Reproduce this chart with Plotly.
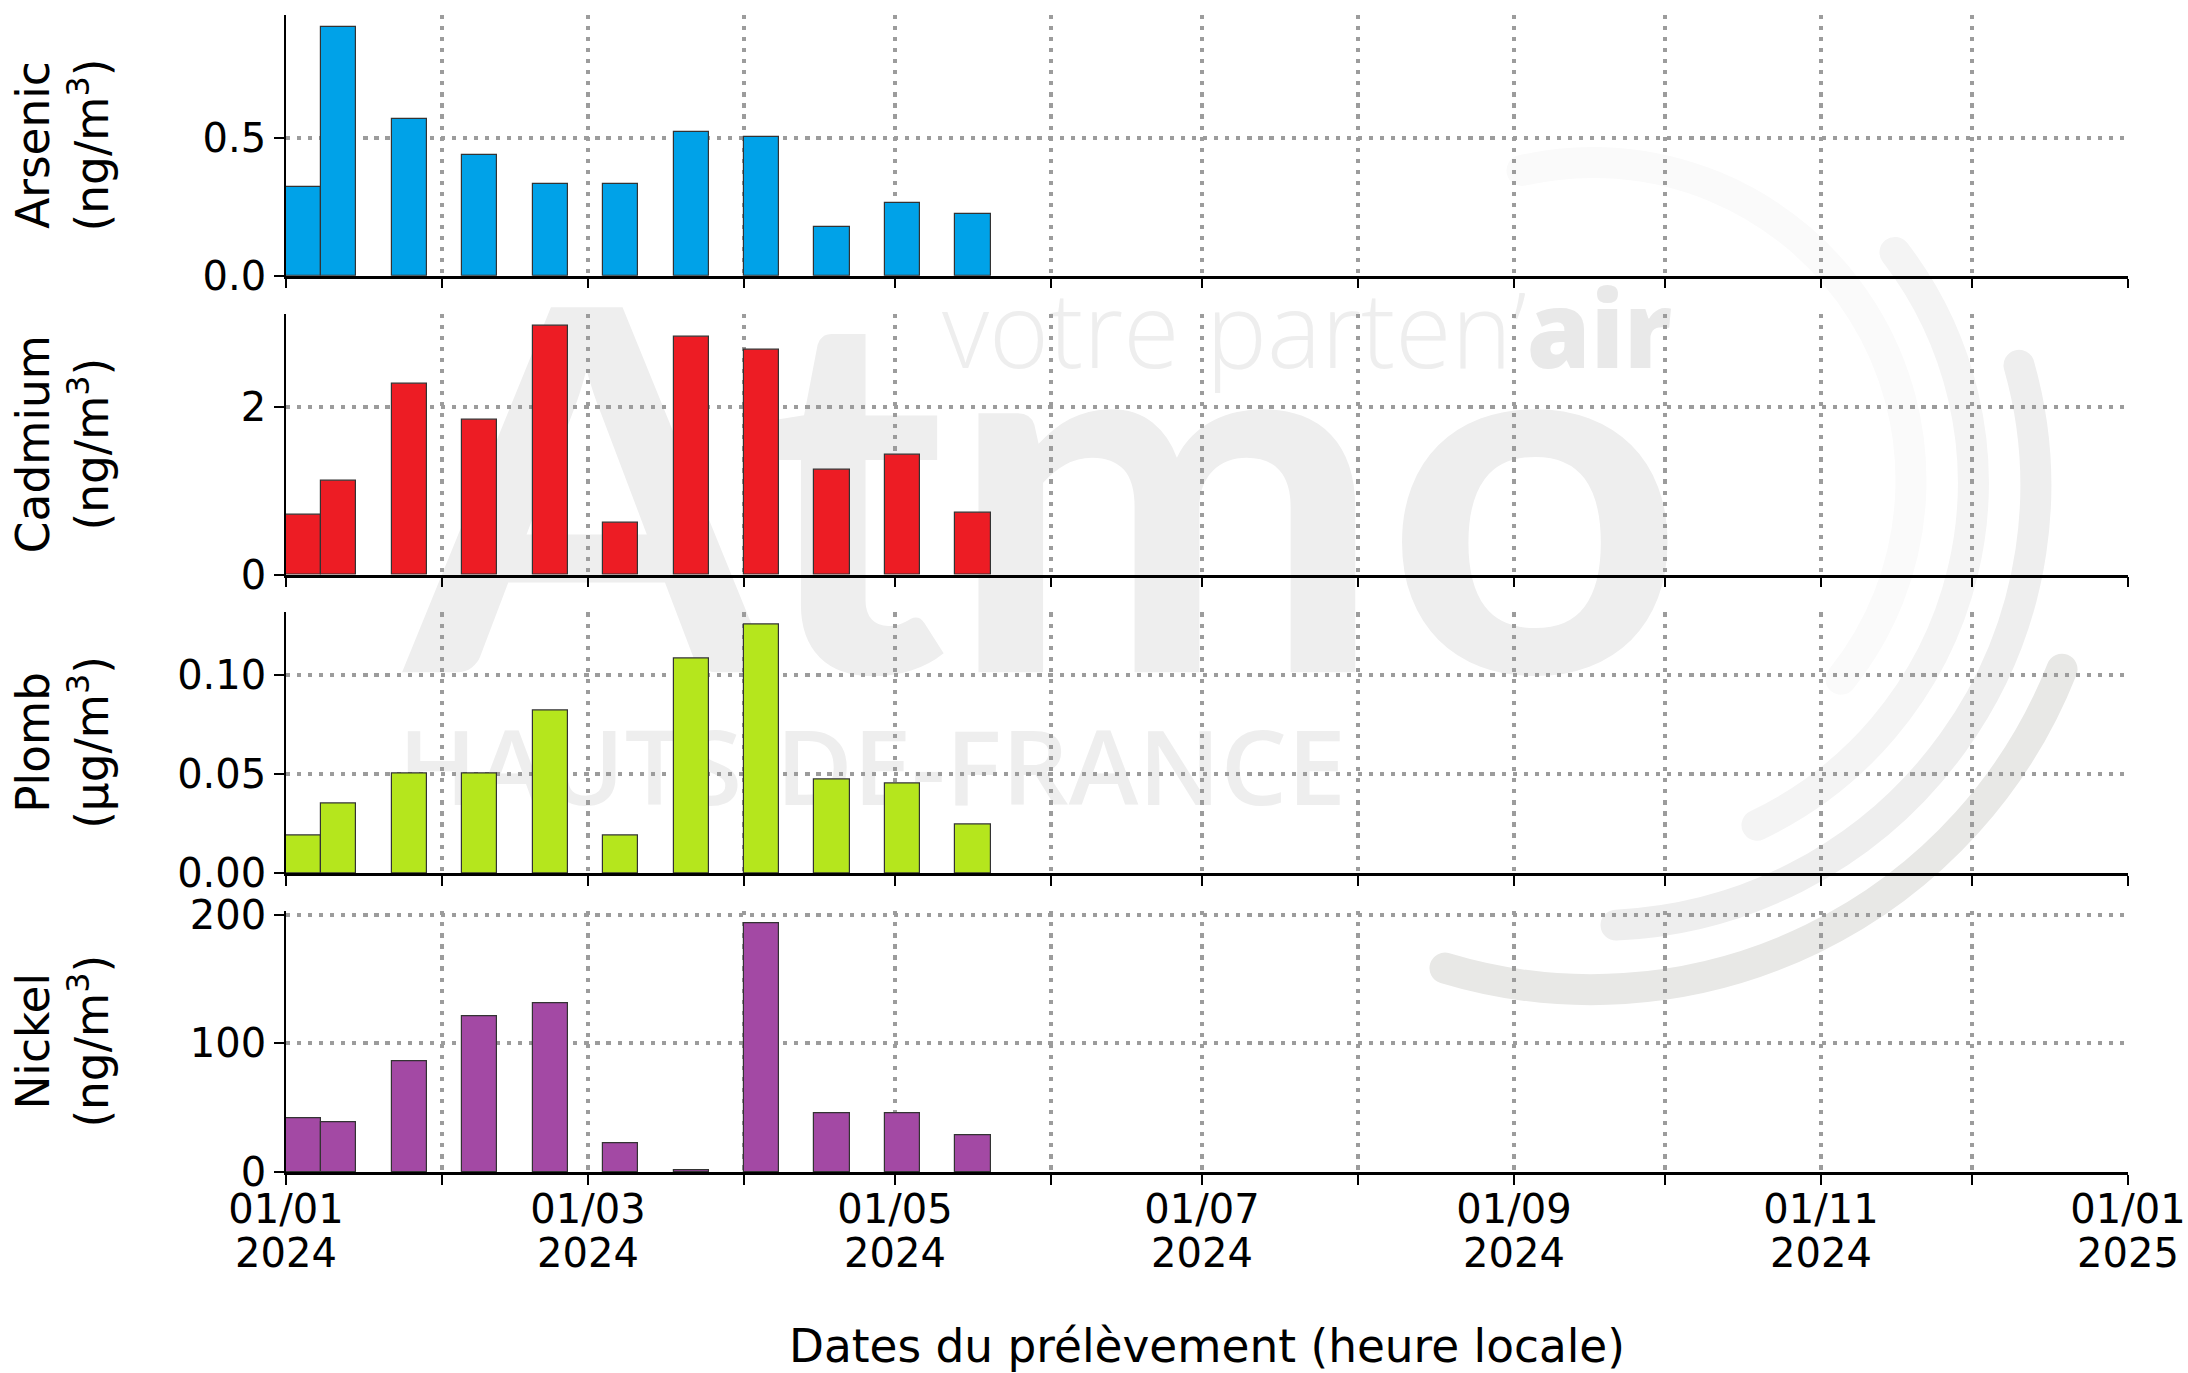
import base64
import plotly.graph_objects as go
from plotly.subplots import make_subplots

dates = ["2024-01-01", "2024-01-08", "2024-01-22", "2024-02-05", "2024-02-19", "2024-03-04",
         "2024-03-18", "2024-04-01", "2024-04-15", "2024-04-29", "2024-05-13"]
arsenic = [0.322, 0.90, 0.567, 0.436, 0.333, 0.333, 0.52, 0.504, 0.175, 0.263, 0.223]
cadmium = [0.708, 1.119, 2.274, 1.845, 2.963, 0.616, 2.836, 2.68, 1.247, 1.429, 0.74]
plomb = [0.019, 0.0354, 0.0506, 0.0504, 0.0823, 0.0192, 0.1085, 0.1254, 0.0471, 0.0451, 0.0244]
nickel = [41.8, 38.4, 86, 121, 131.3, 22.3, 1.0, 193, 45.3, 45.7, 28.4]

names = ["Arsenic", "Cadmium", "Plomb", "Nickel"]
units = ["ng/m<sup>3</sup>", "ng/m<sup>3</sup>", "µg/m<sup>3</sup>", "ng/m<sup>3</sup>"]
series = [arsenic, cadmium, plomb, nickel]
colors = ["#00A2E8", "#ED1C24", "#B5E61D", "#A349A4"]
y_ticks = [[0, 0.5], [0, 2], [0, 0.05, 0.10], [0, 100, 200]]
y_formats = [".1f", "d", ".2f", "d"]

W, H = 2188, 1373
L, R, T, B = 286, 60, 14.5, 201
GAP = 38
PLOT_W, PLOT_H = W - L - R, H - T - B
PH = (PLOT_H - 3 * GAP) / 4
TICK_SIZE = 40
LABEL_SIZE = 45.4
GRID_COLOR = "#9c9c9c"


def arc(r, x1, y1, x2, y2, color):
    return (f'<path d="M{x1} {y1} A{r} {r} 0 0 1 {x2} {y2}" fill="none" stroke="{color}" '
            f'stroke-width="31" stroke-linecap="round"/>')


svg = f'''<svg xmlns="http://www.w3.org/2000/svg" width="{W}" height="{H}" viewBox="0 0 {W} {H}">
{arc(318, 1522, 170, 1841, 679, "#fafafa")}
{arc(379, 1895, 252, 1757, 825, "#f4f4f4")}
{arc(440, 2019, 365, 1616, 925, "#eeeeee")}
{arc(506, 2062, 669, 1445, 968, "#e8e8e6")}
<text x="405" y="672" font-family="Lato" font-weight="700" font-size="505" fill="#eeeeee"
 textLength="1280" lengthAdjust="spacingAndGlyphs">Atmo</text>
<text x="942" y="368" font-family="Open Sans" font-size="106" fill="#eeeeee"
 textLength="730" lengthAdjust="spacingAndGlyphs"><tspan font-weight="300">votre parten’</tspan><tspan font-weight="800" fill="#e9e9e9">air</tspan></text>
<text x="398" y="805" font-family="Open Sans" font-weight="600" font-size="104" fill="#eeeeee"
 textLength="948" lengthAdjust="spacingAndGlyphs">HAUTS-DE-FRANCE</text>
</svg>'''
logo = "data:image/svg+xml;base64," + base64.b64encode(svg.encode("utf-8")).decode()

fig = make_subplots(rows=4, cols=1, shared_xaxes=True, vertical_spacing=GAP / PLOT_H)

GRID = dict(showgrid=True, gridcolor=GRID_COLOR, gridwidth=4.17, griddash="4.17px,6.88px")
for i, (vals, color) in enumerate(zip(series, colors)):
    row = i + 1
    fig.add_trace(go.Bar(x=dates, y=vals, width=7 * 86400000, offset=0,
                         marker=dict(color=color, line=dict(color="#333333", width=1.2)),
                         name=names[i], showlegend=False), row=row, col=1)
    top = i * (PH + GAP)
    dom = [max(0, 1 - (top + PH) / PLOT_H), min(1, 1 - top / PLOT_H)]
    fig.update_yaxes(row=row, col=1, domain=dom, range=[0, max(vals) * 1.05], automargin=False,
                     tickmode="array", tickvals=y_ticks[i], tickformat=y_formats[i],
                     ticks="outside", ticklen=9.7, tickwidth=2.2, tickcolor="black",
                     showline=True, linecolor="black", linewidth=2.2, zeroline=False,
                     tickfont=dict(family="DejaVu Sans", size=TICK_SIZE, color="black"), **GRID)
    fig.update_xaxes(row=row, col=1, type="date", range=["2024-01-01", "2025-01-01"], automargin=False,
                     tick0="2024-01-01", dtick="M2", tickformat="%d/%m<br>%Y",
                     ticks="outside", ticklen=9.7, tickwidth=2.2, tickcolor="black",
                     showline=True, linecolor="black", linewidth=2.8, zeroline=False,
                     showticklabels=row == 4,
                     tickfont=dict(family="DejaVu Sans", size=TICK_SIZE, color="black"),
                     minor=dict(dtick="M1", tick0="2024-01-01", ticks="outside", ticklen=9.7,
                                tickwidth=2.2, tickcolor="black", showgrid=True,
                                gridcolor=GRID_COLOR, gridwidth=4.17, griddash="4.17px,6.88px"),
                     **GRID)
    fig.add_annotation(xref="paper", yref=f"y{row if row > 1 else ''} domain", x=(63 - L) / PLOT_W, y=0.5,
                       text=f"{names[i]}<br>({units[i]})", textangle=-90, showarrow=False,
                       xanchor="center", yanchor="middle",
                       font=dict(family="DejaVu Sans", size=LABEL_SIZE, color="black"))

fig.update_xaxes(row=4, col=1, title=dict(text="Dates du prélèvement (heure locale)", standoff=47,
                                          font=dict(family="DejaVu Sans", size=LABEL_SIZE, color="black")))

fig.update_layout(
    width=W, height=H, autosize=False, margin=dict(l=L, r=R, t=T, b=B, pad=0),
    paper_bgcolor="white", plot_bgcolor="rgba(0,0,0,0)", bargap=0, showlegend=False,
    font=dict(family="DejaVu Sans", color="black"),
    images=[dict(source=logo, xref="paper", yref="paper", x=-L / PLOT_W, y=1 + T / PLOT_H,
                 sizex=W / PLOT_W, sizey=H / PLOT_H, xanchor="left", yanchor="top",
                 sizing="stretch", layer="below")],
)

post = """
document.body.style.margin='0';
document.documentElement.style.overflow='hidden';
document.querySelectorAll('.x4tick text').forEach(function(t){
  var ls=t.querySelectorAll('tspan.line');
  if(ls.length>1){ls[0].setAttribute('dy','-10px');ls[1].setAttribute('dy','34px');}
});
"""
fig.write_html("out.html", post_script=post, config={"displayModeBar": False})
